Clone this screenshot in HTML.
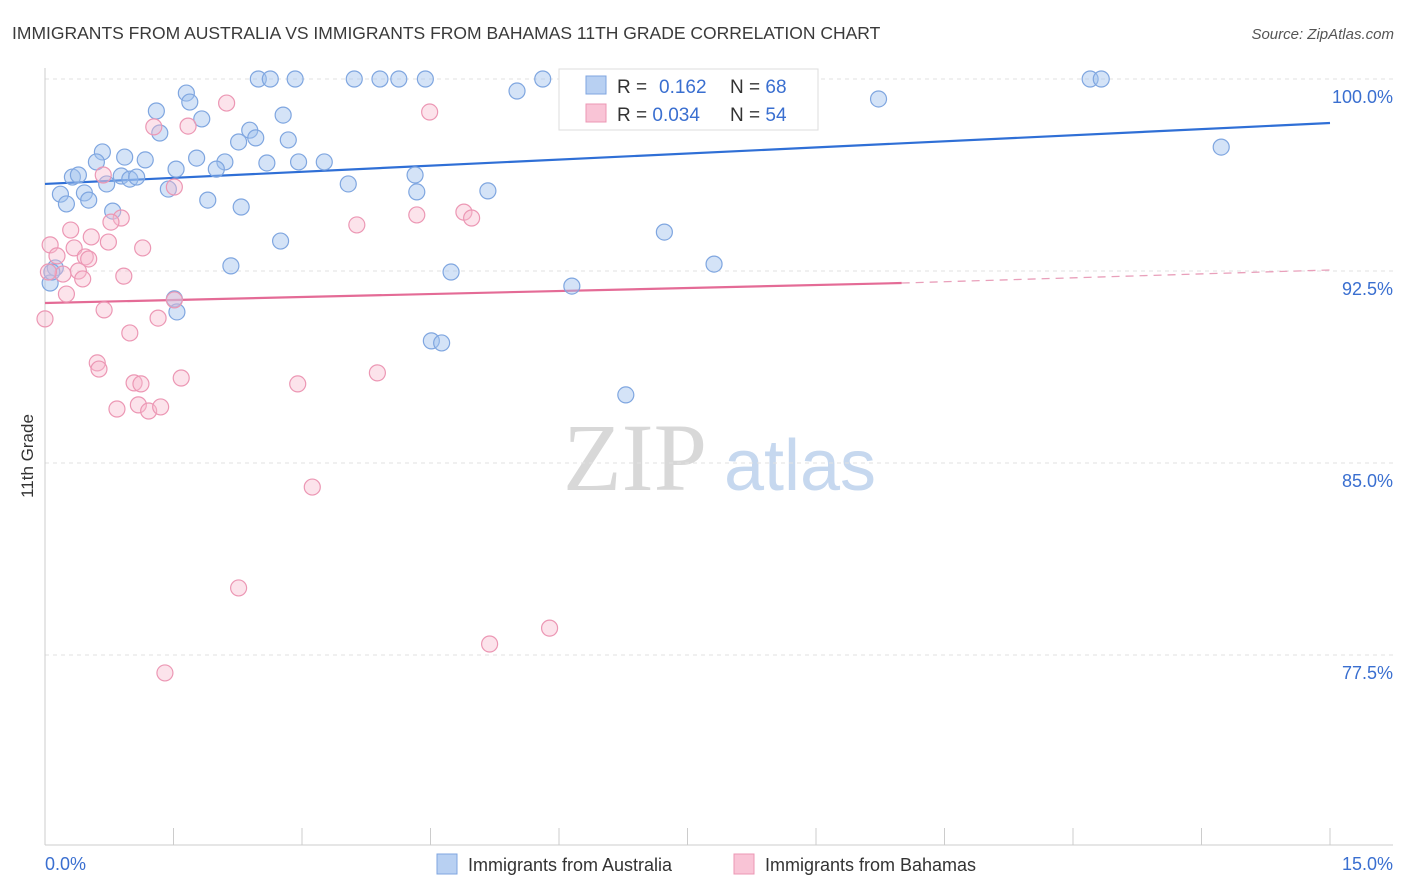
<!DOCTYPE html>
<html><head><meta charset="utf-8"><style>
body{margin:0;background:#fff;font-family:"Liberation Sans",sans-serif;}
svg{display:block}
</style></head><body>
<svg id="chart" width="1406" height="892" xmlns="http://www.w3.org/2000/svg">
<text x="12" y="39" font-size="17.5" fill="#3a3a3a" font-family="Liberation Sans, sans-serif">IMMIGRANTS FROM AUSTRALIA VS IMMIGRANTS FROM BAHAMAS 11TH GRADE CORRELATION CHART</text>
<text x="1394" y="39" font-size="15" fill="#555" text-anchor="end" font-style="italic">Source: ZipAtlas.com</text>
<text transform="translate(33,456) rotate(-90)" font-size="17" fill="#333" text-anchor="middle">11th Grade</text>
<g>
<text x="635" y="490" font-size="96" fill="#d8d8d8" font-family="Liberation Serif, serif" text-anchor="middle">ZIP</text>
<text x="800" y="490" font-size="72" fill="#c6d8ef" text-anchor="middle">atlas</text>
</g>
<g id="grid"></g><g id="axes"></g><g id="lines"></g><g id="pts"></g>
<g>
<rect x="559" y="69" width="259" height="61" fill="#fff" stroke="#ddd"/>
<rect x="586" y="76" width="20" height="18" fill="#b8d0f2" stroke="#7fa6e0"/>
<rect x="586" y="104" width="20" height="18" fill="#f9c4d6" stroke="#ec97b4"/>
<text x="617" y="93" font-size="19" fill="#333">R = </text>
<text x="659" y="93" font-size="19" fill="#3a6fd0">0.162</text>
<text x="730" y="93" font-size="19" fill="#333">N = <tspan fill="#3a6fd0">68</tspan></text>
<text x="617" y="121" font-size="19" fill="#333">R = <tspan fill="#3a6fd0">0.034</tspan></text>
<text x="730" y="121" font-size="19" fill="#333">N = <tspan fill="#3a6fd0">54</tspan></text>
</g>
<g>
<rect x="437" y="854" width="20" height="20" fill="#b8d0f2" stroke="#7fa6e0"/>
<text x="468" y="871" font-size="18" fill="#333">Immigrants from Australia</text>
<rect x="734" y="854" width="20" height="20" fill="#f9c4d6" stroke="#ec97b4"/>
<text x="765" y="871" font-size="18" fill="#333">Immigrants from Bahamas</text>
</g>
</svg>
<script>
const xTicks=[0,1.5,3,4.5,6,7.5,9,10.5,12,13.5,15];
const yTicks=[100,92.5,85,77.5];
const yTickLabels=["100.0%","92.5%","85.0%","77.5%"];
const xEndLabels=["0.0%","15.0%"];
const ausX=[2.49,2.63,2.92,3.61,3.91,4.13,4.44,5.81,6.22,12.2,12.33,5.51,9.73,1.65,1.69,1.30,2.78,1.83,1.34,2.84,2.26,2.39,2.46,13.73,0.67,0.60,0.93,1.17,1.77,2.10,2.59,2.96,3.26,1.53,2.00,0.32,0.39,0.89,0.99,1.07,0.72,3.54,4.32,4.34,5.17,1.44,0.18,0.46,0.51,0.25,1.90,2.29,0.79,7.23,2.75,2.17,4.74,7.81,0.12,0.06,6.15,1.51,1.54,4.51,4.63,6.78,0.08];
const ausY=[100,100,100,100,100,100,100,100,100,100,100,99.53,99.22,99.45,99.1,98.75,98.59,98.44,97.89,97.62,97.54,98.0,97.7,97.34,97.15,96.76,96.95,96.84,96.91,96.76,96.72,96.76,96.76,96.48,96.48,96.17,96.25,96.21,96.09,96.17,95.9,95.9,96.25,95.59,95.63,95.7,95.5,95.55,95.27,95.12,95.27,95.0,94.84,94.02,93.67,92.7,92.46,92.77,92.62,92.03,91.91,91.41,90.9,89.77,89.69,87.66,92.46];
const bahX=[8.85,6.86,2.12,4.49,1.27,1.67,1.51,0.68,0.89,0.77,0.30,4.34,4.89,4.98,3.64,0.06,0.34,0.54,0.74,1.14,0.14,0.47,0.51,0.39,0.21,0.04,0.44,0.92,0.25,1.51,0.69,1.32,0.99,0.0,0.61,0.63,1.59,1.04,1.12,2.95,3.88,0.84,1.09,1.21,1.35,3.12,2.26,5.89,5.19,1.40];
const bahY=[100,100,99.06,98.71,98.13,98.16,95.78,96.25,94.57,94.41,94.1,94.69,94.8,94.57,94.3,93.52,93.4,93.83,93.63,93.4,93.09,93.05,92.97,92.5,92.38,92.46,92.19,92.3,91.6,91.37,90.98,90.66,90.08,90.63,88.91,88.67,88.32,88.13,88.09,88.09,88.52,87.11,87.27,87.03,87.19,84.06,80.12,78.55,77.93,76.8];
const ausTrend=[95.9,98.28];
const bahTrend=[91.25,92.03,92.54];
const bahTrendX=[0,10,15];
const NS="http://www.w3.org/2000/svg";
const sx=v=>45+v/15*1285;
const sy=v=>79+(100-v)*25.6;
function mk(tag,attrs,parent){const e=document.createElementNS(NS,tag);for(const k in attrs)e.setAttribute(k,attrs[k]);document.getElementById(parent).appendChild(e);return e;}
yTicks.forEach((t,i)=>{
 const g=mk('line',{x1:45,x2:1393,y1:sy(t),y2:sy(t),stroke:'#e2e2e2','stroke-dasharray':'4,4'},'grid');
 
 
 const l=mk('text',{x:1393,y:sy(t)+24,'font-size':18,fill:'#3a6fd0','text-anchor':'end'},'axes');
 l.textContent=yTickLabels[i];
 
 
});
const yAxis=mk('line',{x1:45,x2:45,y1:68,y2:845,stroke:'#ccc'},'axes');


const xAxis=mk('line',{x1:45,x2:1393,y1:845,y2:845,stroke:'#ccc'},'axes');


xTicks.forEach(t=>{const e=mk('line',{x1:sx(t),x2:sx(t),y1:828,y2:845,stroke:'#ccc'},'axes');
 
 });
const xl0=mk('text',{x:45,y:870,'font-size':18,fill:'#3a6fd0'},'axes');xl0.textContent=xEndLabels[0];


const xl1=mk('text',{x:1393,y:870,'font-size':18,fill:'#3a6fd0','text-anchor':'end'},'axes');xl1.textContent=xEndLabels[1];


ausX.forEach((x,i)=>{const c=mk('circle',{cx:sx(x),cy:sy(ausY[i]),r:8,fill:'rgba(160,192,238,0.45)',stroke:'#7fa6e0','stroke-width':1.2},'pts');
 
 });
bahX.forEach((x,i)=>{const c=mk('circle',{cx:sx(x),cy:sy(bahY[i]),r:8,fill:'rgba(248,184,206,0.4)',stroke:'#ec97b4','stroke-width':1.2},'pts');
 
 });
const bl=mk('line',{x1:sx(0),y1:sy(ausTrend[0]),x2:sx(15),y2:sy(ausTrend[1]),stroke:'#2f6fd6','stroke-width':2.2},'lines');


const pl=mk('line',{x1:sx(bahTrendX[0]),y1:sy(bahTrend[0]),x2:sx(bahTrendX[1]),y2:sy(bahTrend[1]),stroke:'#e46b96','stroke-width':2.2},'lines');


const pd=mk('line',{x1:sx(bahTrendX[1]),y1:sy(bahTrend[1]),x2:sx(bahTrendX[2]),y2:sy(bahTrend[2]),stroke:'#e9a0bb','stroke-width':1.3,'stroke-dasharray':'8,6'},'lines');


</script>
</body></html>
